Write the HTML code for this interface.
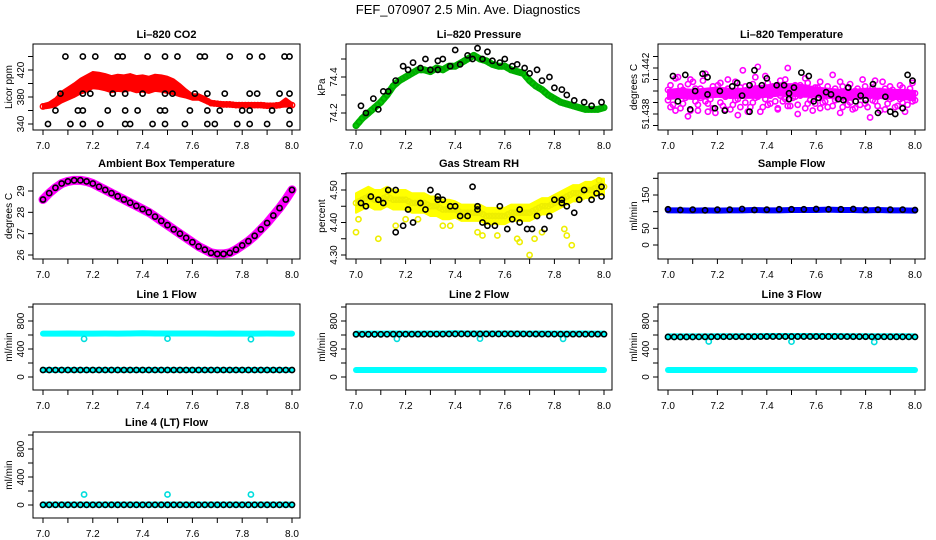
<!DOCTYPE html>
<html><head><meta charset="utf-8">
<style>
html,body{margin:0;padding:0;background:#fff;}
svg{display:block;font-family:"Liberation Sans",sans-serif;}
</style></head>
<body>
<svg id="chart" width="936" height="540" viewBox="0 0 936 540" xmlns="http://www.w3.org/2000/svg">
<text x="468" y="14" text-anchor="middle" font-size="13">FEF_070907  2.5 Min. Ave. Diagnostics</text>
</svg>
<script>
// ---------- data ----------
const xTicks = [7.0,7.1,7.2,7.3,7.4,7.5,7.6,7.7,7.8,7.9,8.0];
const xTickLabels = ["7.0","","7.2","","7.4","","7.6","","7.8","","8.0"];

const co2Mean = [366,368,372,380,385,390,396,400,405,404,402,399,401,400,402,399,400,398,401,400,398,395,390,385,380,380,376,371,370,369,369,368,368,368,368,368,367,367,368,372,368];
const co2Spread = [3,4,6,8,9,10,11,12,12,12,12,12,12,12,12,12,12,12,12,12,12,11,9,6,4,4,4,3,3,3,3,3,3,3,3,3,3,3,3,6,3];
const co2BlackT = [7.09,7.16,7.21,7.30,7.32,7.42,7.49,7.54,7.63,7.65,7.75,7.83,7.88,7.97,7.99,7.07,7.16,7.19,7.28,7.33,7.40,7.49,7.52,7.61,7.66,7.73,7.83,7.86,7.95,7.99,7.05,7.14,7.16,7.26,7.33,7.38,7.47,7.49,7.59,7.66,7.71,7.80,7.83,7.92,7.99,7.02,7.11,7.16,7.23,7.33,7.35,7.44,7.49,7.57,7.66,7.69,7.78,7.83,7.90,7.99];
const co2BlackV = [440,440,440,440,440,440,440,440,440,440,440,440,440,440,440,385,385,385,385,385,385,385,385,385,385,385,385,385,385,385,360,360,360,360,360,360,360,360,360,360,360,360,360,360,360,340,340,340,340,340,340,340,340,340,340,340,340,340,340,340];

const presGreen = [74.13,74.17,74.2,74.23,74.26,74.3,74.35,74.38,74.4,74.42,74.44,74.44,74.43,74.45,74.44,74.46,74.46,74.48,74.5,74.52,74.5,74.49,74.47,74.46,74.46,74.44,74.43,74.42,74.38,74.35,74.33,74.3,74.28,74.26,74.25,74.24,74.23,74.22,74.22,74.22,74.23];
const presBlackT = [7.02,7.04,7.07,7.09,7.11,7.13,7.16,7.19,7.21,7.23,7.26,7.28,7.30,7.33,7.33,7.35,7.38,7.40,7.42,7.45,7.47,7.49,7.51,7.53,7.55,7.58,7.60,7.63,7.65,7.68,7.70,7.73,7.75,7.78,7.80,7.83,7.85,7.88,7.92,7.95,7.99];
const presBlackV = [74.24,74.2,74.28,74.22,74.32,74.32,74.38,74.46,74.44,74.48,74.45,74.5,74.44,74.49,74.44,74.5,74.46,74.55,74.47,74.52,74.5,74.56,74.5,74.54,74.49,74.48,74.5,74.46,74.47,74.45,74.42,74.44,74.38,74.4,74.34,74.33,74.3,74.27,74.26,74.24,74.26];

const tempMean = [51.4397,51.4398,51.4397,51.4398,51.4399,51.4398,51.4398,51.4399,51.4400,51.4401,51.4401,51.4400,51.4399,51.4398,51.4397,51.4397,51.4398,51.4398,51.4397,51.4397,51.4396];
const tempSpread = [0.0004,0.0004,0.0004,0.0004,0.0004,0.0004,0.0004,0.0005,0.0005,0.0005,0.0005,0.0005,0.0004,0.0004,0.0004,0.0004,0.0004,0.0004,0.0004,0.0004,0.0004];
const tempPink = [51.4392,51.4405,51.4388,51.4411,51.4412,51.4385,51.4401,51.4394,51.4378,51.4410,51.4408,51.4391,51.4383,51.4402,51.4396,51.4415,51.4389,51.4393,51.4404,51.4381,51.4398,51.4407,51.4387,51.4395,51.4410,51.4384,51.4400,51.4392,51.4379,51.4403,51.4418,51.4390,51.4397,51.4386,51.4406,51.4394,51.4421,51.4382,51.4399,51.4413,51.4388,51.4396,51.4404,51.4391,51.4385,51.4409,51.4398,51.4393,51.4420,51.4387,51.4402,51.4395,51.4380,51.4405,51.4399,51.4411,51.4389,51.4397,51.4383,51.4403,51.4394,51.4408,51.4390,51.4400,51.4386,51.4396,51.4414,51.4392,51.4398,51.4381,51.4404,51.4393,51.4388,51.4406,51.4399,51.4385,51.4402,51.4395,51.4410,51.4389,51.4397,51.4377,51.4403,51.4391,51.4387,51.4400,51.4408,51.4384,51.4396,51.4393,51.4401,51.4386,51.4398,51.4405,51.4390,51.4382,51.4399,51.4394,51.4407,51.4392];
const tempPink2 = [51.4401,51.4386,51.4396,51.4383,51.4399,51.4404,51.4389,51.4397,51.4406,51.4383,51.4395,51.4402,51.4388,51.4394,51.4409,51.4391,51.4382,51.4400,51.4385,51.4397,51.4405,51.4390,51.4399,51.4384,51.4402,51.4396,51.4388,51.4408,51.4393,51.4386,51.4399,51.4404,51.4382,51.4397,51.4390,51.4412,51.4395,51.4401,51.4386,51.4393,51.4407,51.4389,51.4398,51.4403,51.4384,51.4396,51.4391,51.4410,51.4387,51.4399,51.4394,51.4405,51.4388,51.4396,51.4401,51.4385,51.4407,51.4392,51.4398,51.4389,51.4403,51.4385,51.4396,51.4391,51.4404,51.4399,51.4387,51.4402,51.4393,51.4408,51.4386,51.4398,51.4403,51.4390,51.4384,51.4400,51.4395,51.4388,51.4397,51.4404,51.4386,51.4398,51.4392,51.4409,51.4395,51.4383,51.4397,51.4402,51.4389,51.4404,51.4394,51.4399,51.4387,51.4393,51.4403,51.4396,51.4388,51.4402,51.4391,51.4398];
const tempBlackT = [7.02,7.04,7.07,7.09,7.11,7.14,7.16,7.16,7.19,7.21,7.23,7.26,7.28,7.30,7.33,7.33,7.35,7.38,7.40,7.44,7.47,7.49,7.49,7.51,7.54,7.57,7.59,7.61,7.64,7.66,7.69,7.71,7.73,7.76,7.78,7.80,7.83,7.85,7.88,7.90,7.92,7.95,7.97,7.99];
const tempBlackV = [51.4413,51.4391,51.4414,51.4384,51.4400,51.4415,51.4397,51.4412,51.4385,51.4400,51.4383,51.4404,51.4407,51.4396,51.4382,51.4405,51.4418,51.4405,51.4411,51.4405,51.4405,51.4393,51.4398,51.4403,51.4416,51.4413,51.4391,51.4394,51.4399,51.4397,51.4393,51.4392,51.4403,51.4391,51.4396,51.4392,51.4406,51.4381,51.4395,51.4382,51.4380,51.4385,51.4414,51.4409];

const ambMean = [28.6,28.9,29.15,29.35,29.45,29.5,29.5,29.45,29.35,29.2,29.05,28.9,28.75,28.6,28.45,28.3,28.15,28.0,27.8,27.6,27.4,27.2,27.0,26.8,26.6,26.4,26.25,26.1,26.05,26.05,26.1,26.25,26.45,26.65,26.9,27.2,27.5,27.85,28.2,28.6,29.05];
const ambBlack = [28.6,28.9,29.15,29.35,29.45,29.5,29.5,29.45,29.35,29.2,29.05,28.9,28.75,28.6,28.45,28.3,28.15,28.0,27.8,27.6,27.4,27.2,27.0,26.8,26.6,26.4,26.25,26.1,26.05,26.05,26.1,26.25,26.45,26.65,26.9,27.2,27.5,27.85,28.2,28.6,29.05];

const rhMean = [4.46,4.47,4.48,4.47,4.47,4.48,4.47,4.47,4.47,4.46,4.46,4.46,4.45,4.45,4.44,4.44,4.44,4.43,4.43,4.43,4.43,4.42,4.42,4.42,4.42,4.43,4.43,4.43,4.43,4.44,4.45,4.45,4.46,4.47,4.48,4.49,4.49,4.50,4.50,4.51,4.51];
const rhSpread = [0.03,0.03,0.03,0.03,0.03,0.03,0.03,0.03,0.03,0.03,0.03,0.03,0.03,0.03,0.03,0.03,0.025,0.025,0.025,0.025,0.025,0.025,0.025,0.025,0.025,0.025,0.025,0.025,0.025,0.025,0.025,0.025,0.025,0.025,0.025,0.025,0.025,0.025,0.025,0.025,0.025];
const rhYellowT = [7.0,7.01,7.09,7.16,7.2,7.25,7.35,7.38,7.49,7.51,7.57,7.65,7.66,7.7,7.72,7.75,7.84,7.85,7.87,7.98];
const rhYellowV = [4.37,4.41,4.35,4.39,4.41,4.41,4.39,4.39,4.37,4.36,4.36,4.35,4.34,4.3,4.35,4.37,4.38,4.36,4.33,4.53];
const rhBlackT = [7.02,7.04,7.06,7.09,7.11,7.13,7.16,7.16,7.19,7.21,7.23,7.26,7.28,7.30,7.33,7.33,7.35,7.38,7.40,7.42,7.45,7.47,7.49,7.49,7.51,7.53,7.56,7.58,7.61,7.63,7.66,7.66,7.69,7.71,7.73,7.76,7.78,7.80,7.83,7.83,7.85,7.88,7.90,7.92,7.95,7.97,7.99,7.99];
const rhBlackV = [4.46,4.45,4.48,4.47,4.46,4.5,4.5,4.37,4.39,4.44,4.4,4.46,4.44,4.5,4.48,4.47,4.47,4.45,4.45,4.42,4.42,4.51,4.45,4.44,4.4,4.39,4.39,4.45,4.38,4.41,4.44,4.4,4.38,4.38,4.42,4.38,4.42,4.47,4.47,4.46,4.45,4.43,4.47,4.5,4.47,4.49,4.48,4.51];

const sampleBlue = [104,104,103,104,103,104,104,105,104,104,105,105,105,106,105,105,104,105,104,104,103];
const sampleBlack = [107,105,106,104,106,106,108,105,106,107,107,107,108,107,107,108,106,106,106,106,105];

const line1Cyan = [620,620,622,620,620,621,620,622,625,622,621,622,622,621,620,622,620,620,621,620,620];
const line1CyanOut = [[7.165,545],[7.5,548],[7.835,540]];
const line1Black = [100,100,100,100,100,100,100,100,100,100,100,100,100,100,100,100,100,100,100,100,100];
const line2CyanHi = [620,620,620,621,620,620,622,622,625,622,621,622,622,621,620,622,620,620,621,620,620];
const line2CyanOut = [[7.165,545],[7.5,548],[7.835,545]];
const line2CyanLo = [100,100,100,100,100,100,100,100,100,100,100,100,100,100,100,100,100,100,100,100,100];
const line2Black = [610,610,610,612,612,612,613,613,615,615,615,615,615,615,614,613,613,612,612,612,612];
const line3CyanHi = [580,580,580,580,582,582,583,583,585,585,585,585,585,585,584,583,583,582,582,582,580];
const line3CyanOut = [[7.165,508],[7.5,505],[7.835,500]];
const line3CyanLo = [100,100,100,100,100,100,100,100,100,100,100,100,100,100,100,100,100,100,100,100,100];
const line3Black = [572,572,572,574,575,575,576,576,578,578,578,578,578,578,577,576,576,575,574,574,573];
const line4Cyan = [5,5,5,5,5,5,5,5,5,5,5,5,5,5,5,5,5,5,5,5,5];
const line4CyanOut = [[7.165,150],[7.5,150],[7.835,150]];
const line4Black = [3,3,3,3,3,3,3,3,3,3,3,3,3,3,3,3,3,3,3,3,3];

// ---------- drawing ----------
const NS = "http://www.w3.org/2000/svg";
const svg = document.getElementById("chart");
function mk(tag, attrs, parent){
  const e = document.createElementNS(NS, tag);
  for (const k in attrs) e.setAttribute(k, attrs[k]);
  (parent||svg).appendChild(e);
  return e;
}
const cols = [{x0:33,x1:300,a:43,b:292,lab:8},{x0:346,x1:612,a:356,b:604,lab:321},{x0:658,x1:925,a:668,b:915,lab:633}];
const rowTops = [44,173,304,432];
const H = 86;
function tAt(i,n){ return 7 + i/(n-1); }

function panel(opts){
  const c = cols[opts.col], top = rowTops[opts.row];
  const g = mk("g",{});
  
  
  const sx = t => c.a + (t-7)*(c.b-c.a);
  const sy = v => top + opts.p1 + (v-opts.v1)*(opts.p2-opts.p1)/(opts.v2-opts.v1);
  const t = mk("text",{x:(c.x0+c.x1)/2, y:top-6, "text-anchor":"middle","font-size":"11","font-weight":"bold"}, g);
  t.textContent = opts.title;
  
  
  const clip = "clip"+opts.row+opts.col;
  const cp = mk("clipPath",{id:clip}, g);
  mk("rect",{x:c.x0,y:top,width:c.x1-c.x0,height:H}, cp);
  const plot = mk("g",{"clip-path":"url(#"+clip+")"}, g);
  opts.draw(plot, sx, sy);
  const box = mk("rect",{x:c.x0,y:top,width:c.x1-c.x0,height:H,fill:"none",stroke:"#000","stroke-width":"1"}, g);
  
  
  const xa = mk("g",{}, g);
  
  
  const yb = top+H;
  mk("line",{x1:sx(7),x2:sx(8),y1:yb,y2:yb,stroke:"#000"}, xa);
  xTicks.forEach((v,i)=>{
    mk("line",{x1:sx(v),x2:sx(v),y1:yb,y2:yb+5,stroke:"#000"}, xa);
    if (xTickLabels[i]) { const tl = mk("text",{x:sx(v),y:yb+19,"text-anchor":"middle","font-size":"10"}, xa); tl.textContent = xTickLabels[i]; }
  });
  const ya = mk("g",{}, g);
  
  
  const ys = opts.yTicks.map(sy);
  mk("line",{x1:c.x0,x2:c.x0,y1:Math.min(...ys),y2:Math.max(...ys),stroke:"#000"}, ya);
  opts.yTicks.forEach((v,i)=>{
    mk("line",{x1:c.x0-5,x2:c.x0,y1:sy(v),y2:sy(v),stroke:"#000"}, ya);
    const lab = opts.yLabels[i];
    if (lab) { const tl = mk("text",{x:c.x0-9,y:sy(v),"text-anchor":"middle","font-size":"10",transform:`rotate(-90 ${c.x0-9} ${sy(v)})`}, ya); tl.textContent = lab; }
  });
  const yt = mk("text",{x:c.lab+4,y:top+H/2,"text-anchor":"middle","font-size":"10",transform:`rotate(-90 ${c.lab+4} ${top+H/2})`}, g);
  yt.textContent = opts.yTitle;
  
  
}

function band(g, sx, sy, mean, spread, color, name){
  const n = mean.length;
  let up = [], dn = [];
  for (let i=0;i<n;i++){ up.push(sx(tAt(i,n))+","+sy(mean[i]+spread[i])); dn.unshift(sx(tAt(i,n))+","+sy(mean[i]-spread[i])); }
  const p = mk("polygon",{points:up.concat(dn).join(" "),fill:color,stroke:color,"stroke-width":"2","stroke-linejoin":"round"}, g);
  
  
}
function thick(g, sx, sy, vals, color, w, name){
  const n = vals.length;
  const pts = vals.map((v,i)=>sx(tAt(i,n))+","+sy(v)).join(" ");
  const p = mk("polyline",{points:pts,fill:"none",stroke:color,"stroke-width":w,"stroke-linejoin":"round","stroke-linecap":"round"}, g);
  
  
}
function pts(g, sx, sy, ts, vs, color, name){
  const gg = mk("g",{}, g);
  
  
  vs.forEach((v,i)=>{
    const t = ts ? ts[i] : tAt(i, vs.length);
    const c = mk("circle",{cx:sx(t),cy:sy(v),r:2.6,fill:"none",stroke:color,"stroke-width":"1.6"}, gg);
    
    
  });
}
function dense(g, sx, sy, vals, color, name){
  const n = vals.length, ts=[], vs=[];
  for (let i=0;i<n-1;i++) for (let k=0;k<2;k++){ ts.push(tAt(i,n)+k/(2*(n-1))); vs.push(vals[i]+(vals[i+1]-vals[i])*k/2); }
  ts.push(8); vs.push(vals[n-1]);
  pts(g, sx, sy, ts, vs, color, name);
}
function outs(g, sx, sy, arr, color, name){
  pts(g, sx, sy, arr.map(a=>a[0]), arr.map(a=>a[1]), color, name);
}

const lineTicks=[0,200,400,600,800,1000], lineLabels=["0","","400","","800",""];
const lineY = {v1:0,p1:73,v2:800,p2:17};

panel({name:"panel-co2",row:0,col:0,title:"Li\u2013820 CO2",yTitle:"Licor ppm",v1:340,p1:80,v2:420,p2:26,
  yTicks:[340,360,380,400,420,440],yLabels:["340","","380","","420",""],
  draw:(g,sx,sy)=>{ band(g,sx,sy,co2Mean,co2Spread,"#ff0000","co2-red-band"); dense(g,sx,sy,co2Mean,"#ff0000","co2-red-points"); pts(g,sx,sy,co2BlackT,co2BlackV,"#000","co2-black-points"); }});
panel({name:"panel-pressure",row:0,col:1,title:"Li\u2013820 Pressure",yTitle:"kPa",v1:74.2,p1:69,v2:74.4,p2:33,
  yTicks:[74.2,74.3,74.4,74.5],yLabels:["74.2","","74.4",""],
  draw:(g,sx,sy)=>{ thick(g,sx,sy,presGreen,"#00cc00",7,"pressure-green-band"); dense(g,sx,sy,presGreen,"#00aa00","pressure-green-points"); pts(g,sx,sy,presBlackT,presBlackV,"#000","pressure-black-points"); }});
panel({name:"panel-li820-temp",row:0,col:2,title:"Li\u2013820 Temperature",yTitle:"degrees C",v1:51.440,p1:47,v2:51.442,p2:24,
  yTicks:[51.437,51.438,51.439,51.440,51.441,51.442,51.443],yLabels:["","51.438","","","","51.442",""],
  draw:(g,sx,sy)=>{ band(g,sx,sy,tempMean,tempSpread,"#ff00ff","temp-magenta-band"); pts(g,sx,sy,null,tempPink,"#ff00ff","temp-magenta-points"); pts(g,sx,sy,null,tempPink2,"#ff00ff","temp-magenta-points-2"); pts(g,sx,sy,tempBlackT,tempBlackV,"#000","temp-black-points"); }});
panel({name:"panel-ambient-temp",row:1,col:0,title:"Ambient Box Temperature",yTitle:"degrees C",v1:26,p1:82,v2:29,p2:18,
  yTicks:[26,27,28,29],yLabels:["26","27","28","29"],
  draw:(g,sx,sy)=>{ thick(g,sx,sy,ambMean,"#ff00ff",9,"ambient-magenta-band"); pts(g,sx,sy,null,ambBlack,"#000","ambient-black-points"); }});
panel({name:"panel-rh",row:1,col:1,title:"Gas Stream RH",yTitle:"percent",v1:4.30,p1:82,v2:4.50,p2:17,
  yTicks:[4.30,4.35,4.40,4.45,4.50,4.55],yLabels:["4.30","","4.40","","4.50",""],
  draw:(g,sx,sy)=>{ band(g,sx,sy,rhMean,rhSpread,"#ffff00","rh-yellow-band"); dense(g,sx,sy,rhMean,"#eeee00","rh-yellow-points"); pts(g,sx,sy,rhYellowT,rhYellowV,"#eeee00","rh-yellow-outliers"); pts(g,sx,sy,rhBlackT,rhBlackV,"#000","rh-black-points"); }});
panel({name:"panel-sample-flow",row:1,col:2,title:"Sample Flow",yTitle:"ml/min",v1:0,p1:72,v2:150,p2:22,
  yTicks:[0,50,100,150,200],yLabels:["0","50","","150",""],
  draw:(g,sx,sy)=>{ thick(g,sx,sy,sampleBlue,"#0000ff",6,"sample-blue-band"); pts(g,sx,sy,null,sampleBlack,"#000","sample-black-points"); }});
panel(Object.assign({name:"panel-line1",row:2,col:0,title:"Line 1 Flow",yTitle:"ml/min",yTicks:lineTicks,yLabels:lineLabels,
  draw:(g,sx,sy)=>{ thick(g,sx,sy,line1Cyan,"#00ffff",6,"line1-cyan-band"); outs(g,sx,sy,line1CyanOut,"#00dddd","line1-cyan-outliers"); thick(g,sx,sy,line1Black,"#00ffff",6,"line1-cyan-low"); dense(g,sx,sy,line1Black,"#000","line1-black-points"); }},lineY));
panel(Object.assign({name:"panel-line2",row:2,col:1,title:"Line 2 Flow",yTitle:"ml/min",yTicks:lineTicks,yLabels:lineLabels,
  draw:(g,sx,sy)=>{ thick(g,sx,sy,line2CyanHi,"#00ffff",6,"line2-cyan-band"); outs(g,sx,sy,line2CyanOut,"#00dddd","line2-cyan-outliers"); thick(g,sx,sy,line2CyanLo,"#00ffff",6,"line2-cyan-low"); dense(g,sx,sy,line2Black,"#000","line2-black-points"); }},lineY));
panel(Object.assign({name:"panel-line3",row:2,col:2,title:"Line 3 Flow",yTitle:"ml/min",yTicks:lineTicks,yLabels:lineLabels,
  draw:(g,sx,sy)=>{ thick(g,sx,sy,line3CyanHi,"#00ffff",6,"line3-cyan-band"); outs(g,sx,sy,line3CyanOut,"#00dddd","line3-cyan-outliers"); thick(g,sx,sy,line3CyanLo,"#00ffff",6,"line3-cyan-low"); dense(g,sx,sy,line3Black,"#000","line3-black-points"); }},lineY));
panel(Object.assign({name:"panel-line4",row:3,col:0,title:"Line 4 (LT) Flow",yTitle:"ml/min",yTicks:lineTicks,yLabels:lineLabels,
  draw:(g,sx,sy)=>{ thick(g,sx,sy,line4Cyan,"#00ffff",6,"line4-cyan-band"); outs(g,sx,sy,line4CyanOut,"#00dddd","line4-cyan-outliers"); dense(g,sx,sy,line4Black,"#000","line4-black-points"); }},lineY));
</script>
</body></html>
